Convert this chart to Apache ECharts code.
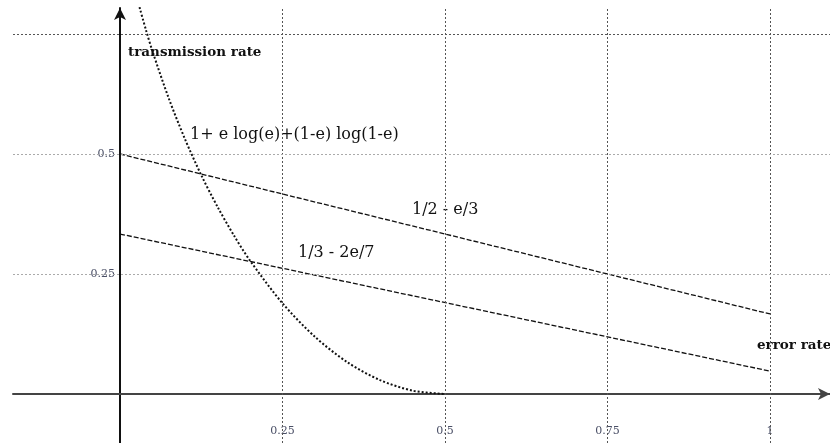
<!DOCTYPE html>
<html>
<head>
<meta charset="utf-8" />
<title>transmission rate</title>
<style>
  html, body { margin: 0; padding: 0; background: #fff; }
  #chart { width: 830px; height: 443px; }
</style>
</head>
<body>
<div id="chart"></div>
<script src="https://cdn.jsdelivr.net/npm/echarts@6/dist/echarts.min.js"></script>
<script>
  // data
  const errEnds = [0, 1];
  const halfLine = [0.5, 0.1667];      // 1/2 - e/3
  const thirdLine = [0.3333, 0.0476];  // 1/3 - 2e/7
  const capErr = [0.03, 0.04, 0.05, 0.075, 0.1, 0.125, 0.15, 0.175, 0.2, 0.25, 0.3, 0.35, 0.4, 0.45, 0.5];
  const capRate = [0.806, 0.758, 0.714, 0.616, 0.531, 0.456, 0.390, 0.331, 0.278, 0.189, 0.119, 0.066, 0.029, 0.007, 0];
  const xTicks = [0.25, 0.5, 0.75, 1];
  const yTicks = [0.25, 0.5];
  const xGrid = [0.25, 0.5, 0.75, 1];
  const yGrid = [0.25, 0.5, 0.75];

  function pairs(xs, ys) {
    return xs.map(function (x, i) { return [x, ys[i]]; });
  }

  const chart = echarts.init(document.getElementById("chart"));
  const serif = "DejaVu Serif";
  const gridMarks = [];
  xGrid.forEach(function (v) {
    gridMarks.push({ xAxis: v, lineStyle: { color: "#555", type: [2, 2], width: 1 } });
  });
  yGrid.forEach(function (v) {
    gridMarks.push({ yAxis: v, lineStyle: { color: v === 0.75 ? "#555" : "#aaa", type: [2, 2], width: 1 } });
  });

  const option = {
    animation: false,
    grid: { left: 13, top: 8, width: 817, height: 435, outerBoundsMode: "none", containLabel: false },
    xAxis: {
      type: "value",
      min: (13 - 120) / 650,
      max: (830 - 120) / 650,
      splitLine: { show: false },
      axisTick: { show: false },
      axisLine: {
        onZero: true,
        symbol: ["none", "arrow"],
        symbolSize: [9, 12],
        lineStyle: { color: "#444", width: 2 }
      },
      axisLabel: {
        customValues: xTicks,
        margin: -17,
        fontFamily: serif,
        fontSize: 11,
        color: "#4a4f66",
        formatter: function (v) { return String(v); }
      }
    },
    yAxis: {
      type: "value",
      min: (394 - 443) / 480,
      max: (394 - 8) / 480,
      splitLine: { show: false },
      axisTick: { show: false },
      axisLine: {
        onZero: true,
        symbol: ["none", "arrow"],
        symbolSize: [9, 12],
        lineStyle: { color: "#111", width: 2 }
      },
      axisLabel: {
        customValues: yTicks,
        margin: -102,
        fontFamily: serif,
        fontSize: 11,
        color: "#4a4f66",
        formatter: function (v) { return String(v); }
      }
    },
    series: [
      {
        type: "line",
        data: [],
        silent: true,
        markLine: {
          silent: true,
          symbol: "none",
          label: { show: false },
          data: gridMarks
        }
      },
      {
        name: "1/2 - e/3",
        type: "line",
        data: pairs(errEnds, halfLine),
        showSymbol: false,
        lineStyle: { color: "#111", width: 1.3, type: [5, 2] }
      },
      {
        name: "1/3 - 2e/7",
        type: "line",
        data: pairs(errEnds, thirdLine),
        showSymbol: false,
        lineStyle: { color: "#111", width: 1.3, type: [5, 2] }
      },
      {
        name: "capacity",
        type: "line",
        data: pairs(capErr, capRate),
        smooth: 0.3,
        showSymbol: false,
        lineStyle: { color: "#111", width: 2, type: [2, 2] }
      }
    ],
    graphic: [
      { type: "text", left: 128, top: 45, style: { text: "transmission rate", font: "bold 13.5px 'DejaVu Serif'", fill: "#111" } },
      { type: "text", left: 757, top: 338, style: { text: "error rate", font: "bold 13.5px 'DejaVu Serif'", fill: "#111" } },
      { type: "text", left: 190, top: 127, style: { text: "1+ e log(e)+(1-e) log(1-e)", font: "16px 'DejaVu Serif'", fill: "#111" } },
      { type: "text", left: 412, top: 202, style: { text: "1/2 - e/3", font: "16px 'DejaVu Serif'", fill: "#111" } },
      { type: "text", left: 298, top: 245, style: { text: "1/3 - 2e/7", font: "16px 'DejaVu Serif'", fill: "#111" } }
    ]
  };
  chart.setOption(option);
</script>
</body>
</html>
